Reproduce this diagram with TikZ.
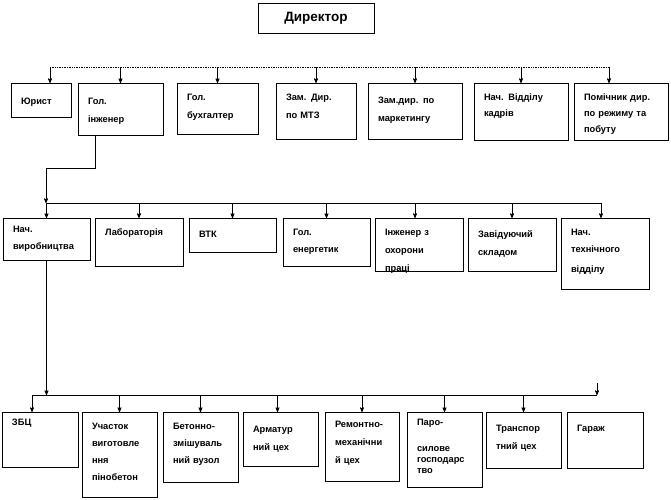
\documentclass[tikz,border=0pt]{standalone}
\usepackage{fontspec}
\setmainfont{Liberation Sans}
\usetikzlibrary{arrows,positioning}

\begin{document}
\begin{tikzpicture}[>=stealth', x=1pt, y=-1pt, line width=0.7pt,
    box/.style={draw, fill=white, align=left, inner xsep=10pt, inner ysep=0pt, outer sep=0pt,
                font=\bfseries\fontsize{9.3}{18}\selectfont},
    head/.style={draw, fill=white, minimum width=116pt, minimum height=30pt, outer sep=0pt,
                 font=\bfseries\fontsize{13.5}{15}\selectfont},
    bus/.style={-},
    drop/.style={->}]
    \useasboundingbox (0,0) rectangle (671,499);

    % Director
    \node [head] (dir) at (316,18) {Директор};

    % First level {jur, gi, gb, mtz, mkt, kadr, pom}
    \node [box, anchor=north west, text width=40pt, text height=21pt, text depth=13pt] (jur) at (11,83) {Юрист};
    \node [box, right=7pt of jur.north east, anchor=north west, text width=65pt, text height=21pt, text depth=31pt] (gi) {Гол.\\інженер};
    \node [box, right=14pt of gi.north east, anchor=north west, text width=61pt, text height=17pt, text depth=34pt] (gb) {Гол.\\бухгалтер};
    \node [box, right=18pt of gb.north east, anchor=north west, text width=60pt, text height=17pt, text depth=39pt] (mtz) {Зам. Дир.\\по МТЗ};
    \node [box, right=12pt of mtz.north east, anchor=north west, text width=74pt, text height=20pt, text depth=36pt] (mkt) {Зам.дир. по\\маркетингу};
    \node [box, right=12pt of mkt.north east, anchor=north west, text width=74pt, text height=17pt, text depth=40pt] (kadr) {Нач. Відділу\\[-2pt]кадрів};
    \node [box, right=6pt of kadr.north east, anchor=north west, text width=74pt, text height=17pt, text depth=40pt] (pom) {Помічник дир.\\[-2pt]по режиму та\\[-2pt]побуту};

    % Second level {nv, lab, vtk, en, ohr, zav, tex}
    \node [box, anchor=north west, text width=67pt, text height=14pt, text depth=28pt] (nv) at (3,218) {Нач.\\[-1pt]виробництва};
    \node [box, right=5pt of nv.north east, anchor=north west, text width=68pt, text height=17pt, text depth=31pt] (lab) {Лабораторія};
    \node [box, right=6pt of lab.north east, anchor=north west, text width=67pt, text height=19pt, text depth=15pt] (vtk) {ВТК};
    \node [box, right=7pt of vtk.north east, anchor=north west, text width=67pt, text height=17pt, text depth=31pt] (en) {Гол.\\[-1pt]енергетик};
    \node [box, right=5pt of en.north east, anchor=north west, text width=68pt, text height=17pt, text depth=36pt] (ohr) {Інженер з\\охорони\\праці};
    \node [box, right=5pt of ohr.north east, anchor=north west, text width=68pt, text height=19pt, text depth=34pt] (zav) {Завідуючий\\складом};
    \node [box, right=5pt of zav.north east, anchor=north west, text width=68pt, text height=17pt, text depth=54pt] (tex) {Нач.\\[-1pt]технічного\\[2pt]відділу};

    % Third level {zbc, uch, bet, arm, rem, par, tr, gar}
    \node [box, anchor=north west, text width=56pt, text height=13pt, text depth=42pt] (zbc) at (2,412) {ЗБЦ};
    \node [box, right=4pt of zbc.north east, anchor=north west, text width=55pt, text height=17pt, text depth=68pt] (uch) {Участок\\[-1pt]виготовле\\[-1pt]ння\\[-1pt]пінобетон};
    \node [box, right=6pt of uch.north east, anchor=north west, text width=55pt, text height=17pt, text depth=53pt] (bet) {Бетонно-\\[-1pt]змішуваль\\[-1pt]ний вузол};
    \node [box, right=5pt of bet.north east, anchor=north west, text width=55pt, text height=20pt, text depth=34pt] (arm) {Арматур\\ний цех};
    \node [box, right=7pt of arm.north east, anchor=north west, text width=54pt, text height=15pt, text depth=54pt] (rem) {Ремонтно-\\механічни\\й цех};
    \node [box, right=8pt of rem.north east, anchor=north west, text width=55pt, text height=13pt, text depth=62pt] (par) {Паро-\\[8pt]силове\\[-7pt]господарс\\[-7pt]тво};
    \node [box, right=4pt of par.north east, anchor=north west, text width=55pt, text height=19pt, text depth=37pt] (tr) {Транспор\\тний цех};
    \node [box, right=6pt of tr.north east, anchor=north west, text width=56pt, text height=19pt, text depth=37pt] (gar) {Гараж};

    % Bus levels
    \coordinate (top) at (0,67);
    \coordinate (mid) at (0,203);
    \coordinate (low) at (0,395);
    \coordinate (knee) at (46,168);
    \coordinate (loose) at (597,383);

    % Paths
    \draw [bus, densely dotted] ([xshift=9pt]jur.north |- top) -- ([xshift=-12pt]pom.north |- top);
    \path [drop] ([xshift=9pt]jur.north |- top) edge ([xshift=9pt]jur.north)
                 (gi.north |- top) edge (gi.north)
                 (gb.north |- top) edge (gb.north)
                 (mtz.north |- top) edge (mtz.north)
                 (mkt.north |- top) edge (mkt.north)
                 (kadr.north |- top) edge (kadr.north)
                 ([xshift=-12pt]pom.north |- top) edge ([xshift=-12pt]pom.north);

    \draw [drop] ([xshift=-25pt]gi.south) |- (knee) -- (knee |- mid);
    \draw [bus] (nv.north |- mid) -- ([xshift=-4pt]tex.north |- mid);
    \path [drop] (nv.north |- mid) edge (nv.north)
                 (lab.north |- mid) edge (lab.north)
                 (vtk.north |- mid) edge (vtk.north)
                 (en.north |- mid) edge (en.north)
                 ([xshift=-4pt]ohr.north |- mid) edge ([xshift=-4pt]ohr.north)
                 (zav.north |- mid) edge (zav.north)
                 ([xshift=-4pt]tex.north |- mid) edge ([xshift=-4pt]tex.north);

    \draw [drop] (nv.south) -- (nv.south |- low);
    \draw [drop] (loose) -- (loose |- low);
    \draw [bus] ([xshift=-8pt]zbc.north |- low) -- (loose |- low);
    \path [drop] ([xshift=-8pt]zbc.north |- low) edge ([xshift=-8pt]zbc.north)
                 (uch.north |- low) edge (uch.north)
                 (bet.north |- low) edge (bet.north)
                 ([xshift=-3pt]arm.north |- low) edge ([xshift=-3pt]arm.north)
                 (rem.north |- low) edge (rem.north)
                 (par.north |- low) edge (par.north)
                 (tr.north |- low) edge (tr.north);
\end{tikzpicture}
\end{document}
